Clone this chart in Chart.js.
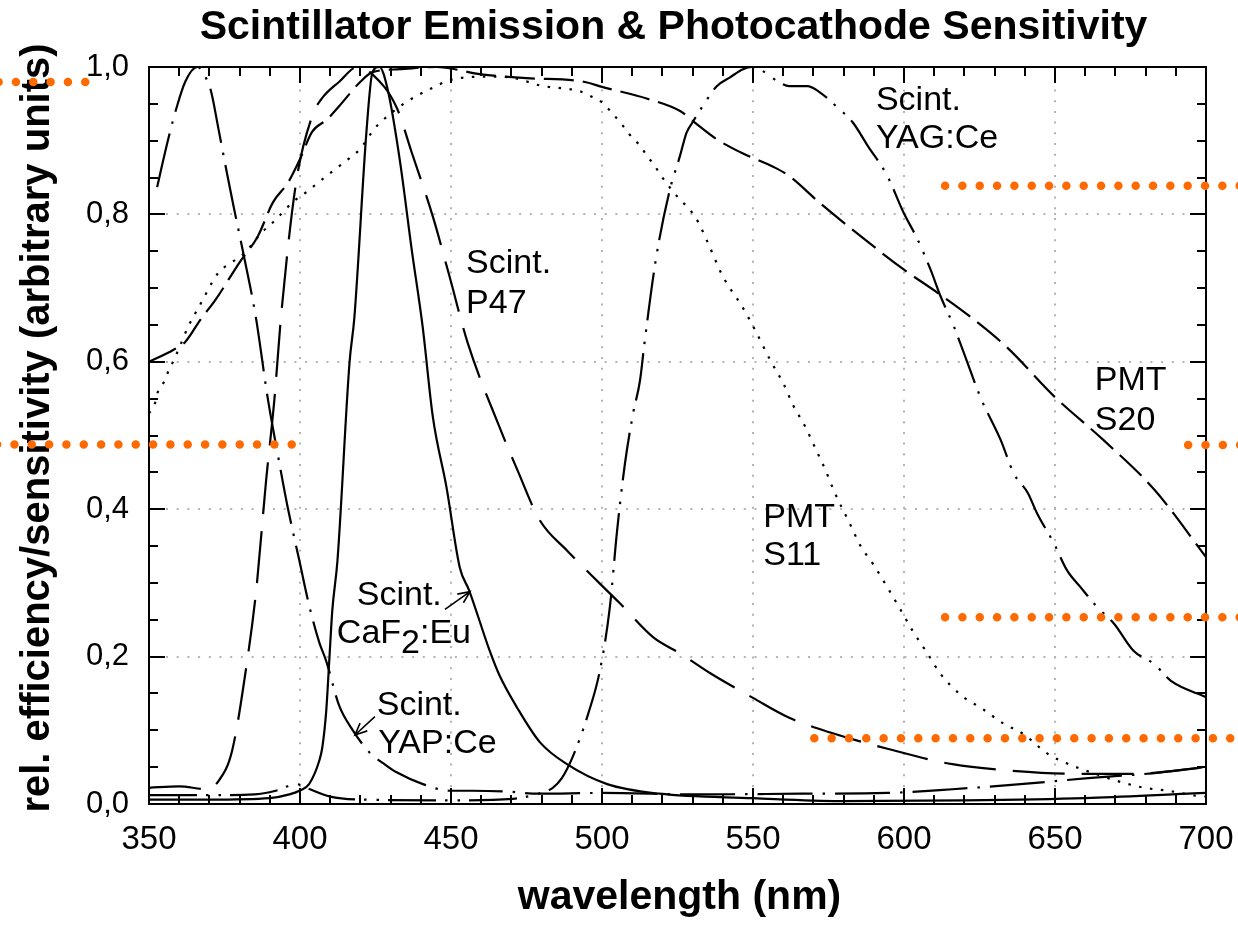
<!DOCTYPE html>
<html><head><meta charset="utf-8">
<script src="https://cdn.jsdelivr.net/npm/chart.js@4.4.1/dist/chart.umd.min.js"></script>
<style>html,body{margin:0;padding:0;background:#fff;}canvas{display:block;}</style>
</head><body>
<canvas id="c" width="1238" height="935"></canvas>
<script>
// ---------- data (wavelength in nm, relative value) ----------
const s20X = [350, 358, 362, 367, 372, 380, 386, 391, 396, 400, 404, 409, 413, 420, 424, 433, 445, 460, 475, 494, 500, 515, 526, 530, 538, 546, 557, 562, 572, 587, 600, 611, 622, 634, 650, 666, 683, 700];
const s20Y = [0.60, 0.616, 0.627, 0.657, 0.684, 0.735, 0.77, 0.816, 0.843, 0.875, 0.912, 0.929, 0.947, 0.98, 0.993, 0.997, 1.0, 0.99, 0.985, 0.98, 0.973, 0.957, 0.94, 0.927, 0.902, 0.884, 0.864, 0.852, 0.816, 0.766, 0.725, 0.694, 0.661, 0.62, 0.552, 0.494, 0.426, 0.335];

const s11X = [350, 352, 353, 355, 356.6, 358.3, 360, 363, 366.6, 373, 377, 381, 387.5, 391, 398, 402, 408.7, 416, 419.7, 425, 428.6, 435, 443, 449.5, 455, 465, 472, 479.4, 492.7, 496, 500, 503, 506.6, 509, 512.6, 515, 517.6, 520, 525.8, 529, 531.8, 535, 540, 546.4, 550.7, 556, 560, 563.3, 567.3, 570.6, 574, 577, 582, 585.5, 590, 594.5, 598.8, 603, 607.8, 612, 618.8, 626, 633, 639.5, 647.6, 654.6, 664, 672.5, 679.5, 687.4, 697, 700];
const s11Y = [0.53, 0.544, 0.56, 0.573, 0.589, 0.603, 0.619, 0.648, 0.675, 0.721, 0.734, 0.745, 0.776, 0.789, 0.818, 0.83, 0.852, 0.875, 0.888, 0.918, 0.932, 0.952, 0.97, 0.982, 0.986, 0.987, 0.984, 0.975, 0.967, 0.961, 0.952, 0.939, 0.922, 0.909, 0.893, 0.879, 0.865, 0.85, 0.82, 0.807, 0.79, 0.762, 0.716, 0.675, 0.643, 0.6, 0.571, 0.541, 0.512, 0.483, 0.453, 0.423, 0.381, 0.351, 0.324, 0.294, 0.264, 0.234, 0.204, 0.177, 0.148, 0.129, 0.109, 0.095, 0.068, 0.054, 0.04, 0.029, 0.022, 0.018, 0.011, 0.01];

const p47X = [350, 360, 369, 373, 377.5, 382, 385.5, 388.8, 391.5, 393.8, 398.7, 404, 407, 413, 419, 424, 432, 437, 444, 449.5, 455.5, 466, 472, 479.4, 488.4, 499.3, 506, 517, 526, 536, 550, 562, 575.6, 594.5, 616, 636, 656, 676, 700];
const p47Y = [0.022, 0.024, 0.02, 0.031, 0.072, 0.18, 0.29, 0.44, 0.548, 0.665, 0.843, 0.933, 0.956, 0.98, 1.0, 0.99, 0.945, 0.884, 0.797, 0.716, 0.626, 0.512, 0.453, 0.385, 0.344, 0.299, 0.272, 0.226, 0.204, 0.177, 0.144, 0.117, 0.097, 0.075, 0.054, 0.045, 0.041, 0.041, 0.05];

const cafX = [350, 370, 390, 396.5, 399.8, 403, 406.4, 407.4, 408.7, 409.7, 410.7, 412.4, 416.4, 418, 422, 424, 426.3, 429, 433, 437, 440.6, 444, 448.5, 452.9, 456, 462.8, 466, 472, 479.4, 488.4, 501.7, 519, 550, 579, 620, 660, 694, 700];
const cafY = [0.006, 0.006, 0.008, 0.013, 0.018, 0.027, 0.059, 0.077, 0.127, 0.195, 0.263, 0.33, 0.599, 0.66, 0.912, 0.993, 1.0, 0.97, 0.875, 0.752, 0.648, 0.525, 0.43, 0.321, 0.29, 0.208, 0.175, 0.13, 0.084, 0.054, 0.027, 0.014, 0.008, 0.004, 0.005, 0.008, 0.014, 0.015];

const yapX = [352.7, 354.4, 356.6, 359, 362, 366, 369, 370.6, 373, 376, 378, 381, 385.4, 389.3, 393.1, 395.9, 399.8, 403, 406.4, 408.6, 413, 417.5, 423, 428, 432, 440.7, 449.5, 457, 468, 479, 500, 532, 566, 594.5, 616, 638.6, 661, 683, 700];
const yapY = [0.837, 0.868, 0.906, 0.943, 0.98, 1.0, 0.984, 0.966, 0.916, 0.852, 0.811, 0.752, 0.66, 0.551, 0.464, 0.403, 0.33, 0.27, 0.219, 0.195, 0.133, 0.1, 0.07, 0.054, 0.043, 0.027, 0.018, 0.018, 0.017, 0.014, 0.015, 0.013, 0.014, 0.015, 0.02, 0.027, 0.035, 0.042, 0.05];

const yagX = [350, 370, 385, 392, 398.8, 402, 410, 420, 450, 470.5, 478, 483.7, 486.7, 490.4, 495.4, 499.3, 502.6, 505, 507.6, 510.3, 512.6, 514.2, 518, 522.5, 525.8, 528, 530, 534.8, 538, 542.4, 546.7, 549.7, 553, 558, 562, 568, 572, 578, 583, 588, 594.5, 599.8, 604.5, 608.8, 612, 616.5, 621, 625.3, 632, 636.3, 641, 644, 649.6, 654, 658.5, 664, 669.5, 676, 682.8, 688.4, 700];
const yagY = [0.012, 0.012, 0.013, 0.018, 0.027, 0.022, 0.01, 0.006, 0.005, 0.007, 0.013, 0.022, 0.035, 0.065, 0.122, 0.181, 0.267, 0.371, 0.462, 0.53, 0.575, 0.63, 0.743, 0.834, 0.879, 0.911, 0.925, 0.956, 0.974, 0.986, 0.997, 1.0, 0.995, 0.981, 0.974, 0.974, 0.966, 0.945, 0.925, 0.893, 0.852, 0.803, 0.766, 0.725, 0.69, 0.648, 0.599, 0.552, 0.494, 0.449, 0.422, 0.395, 0.354, 0.317, 0.294, 0.267, 0.245, 0.208, 0.19, 0.167, 0.145];

// orange dotted marker rows (value level, start and end wavelength)
const markY  = [0.9796, 0.4878, 0.839, 0.4871, 0.2533, 0.0891];
const markX0 = [300.2, 299.7, 613.6, 694.1, 613.6, 570.3];
const markX1 = [329.2, 397.3, 711.5, 711.5, 711.5, 708.2];

// ticks
const xTickValues = [350, 400, 450, 500, 550, 600, 650, 700];
const xTickLabels = ['350', '400', '450', '500', '550', '600', '650', '700'];
const yTickValues = [0, 0.2, 0.4, 0.6, 0.8, 1.0];
const yTickLabels = ['0,0', '0,2', '0,4', '0,6', '0,8', '1,0'];

const titleText = 'Scintillator Emission & Photocathode Sensitivity';
const xTitle = 'wavelength (nm)';
const yTitle = 'rel. efficiency/sensitivity (arbitrary units)';

// ---------- annotations (data coordinates) ----------
const notes = [
  {t: 'Scint.', x: 455.0, y: 0.7201}, {t: 'P47', x: 455.0, y: 0.6658},
  {t: 'Scint.', x: 590.7, y: 0.9417}, {t: 'YAG:Ce', x: 590.7, y: 0.8897},
  {t: 'PMT', x: 663.2, y: 0.5617}, {t: 'S20', x: 663.2, y: 0.5075},
  {t: 'PMT', x: 553.4, y: 0.3763}, {t: 'S11', x: 553.4, y: 0.3243},
  {t: 'Scint.', x: 418.8, y: 0.270}, {t: ['CaF', '2', ':Eu'], x: 412.2, y: 0.218},
  {t: 'Scint.', x: 425.4, y: 0.1208}, {t: 'YAP:Ce', x: 425.9, y: 0.0696}
];
const arrows = [
  {x1: 448.0, y1: 0.2642, x2: 456.3, y2: 0.2882},
  {x1: 424.8, y1: 0.1185, x2: 418.2, y2: 0.0936}
];

// ---------- build datasets ----------
const zip = (xs, ys) => xs.map((v, i) => ({x: v, y: ys[i]}));
function curve(label, xs, ys, dash) {
  return {
    label, data: zip(xs, ys), showLine: true, borderColor: '#000', backgroundColor: '#000',
    borderWidth: 2.2, pointRadius: 0, borderDash: dash, cubicInterpolationMode: 'monotone', order: 1
  };
}
const datasets = [
  curve('PMT S20', s20X, s20Y, [30, 9]),
  curve('PMT S11', s11X, s11Y, [2.5, 8.5]),
  curve('Scint. P47', p47X, p47Y, [52, 17]),
  curve('Scint. CaF2:Eu', cafX, cafY, []),
  curve('Scint. YAP:Ce', yapX, yapY, [55, 10, 2.5, 10]),
  curve('Scint. YAG:Ce', yagX, yagY, [48, 9, 2.5, 10, 2.5, 9])
];
markY.forEach((v, i) => {
  datasets.push({
    label: 'mark' + i, data: [{x: markX0[i], y: v}, {x: markX1[i], y: v}],
    showLine: true, borderColor: '#ff6a00', backgroundColor: '#ff6a00', borderWidth: 8.5,
    borderDash: [0, 17.33], borderCapStyle: 'round', pointRadius: 0, clip: false, order: 0
  });
});

const FONT = '"Liberation Sans", Arial, Helvetica, sans-serif';
Chart.defaults.font.family = FONT;
Chart.defaults.color = '#000';

function drawArrow(ctx, x1, y1, x2, y2) {
  const ang = Math.atan2(y2 - y1, x2 - x1), len = 13, spr = 0.42;
  ctx.beginPath();
  ctx.moveTo(x1, y1); ctx.lineTo(x2, y2);
  ctx.moveTo(x2 - len * Math.cos(ang - spr), y2 - len * Math.sin(ang - spr));
  ctx.lineTo(x2, y2);
  ctx.lineTo(x2 - len * Math.cos(ang + spr), y2 - len * Math.sin(ang + spr));
  ctx.stroke();
}

const decor = {
  id: 'decor',
  beforeDatasetsDraw(chart) {
    const {ctx, chartArea: a, scales: {x, y}} = chart;
    ctx.save();
    // dotted grid
    ctx.strokeStyle = '#b3b3b3'; ctx.lineWidth = 2; ctx.setLineDash([2, 8.7]);
    xTickValues.slice(1, -1).forEach(v => {
      const p = Math.round(x.getPixelForValue(v));
      ctx.beginPath(); ctx.moveTo(p, a.bottom - 17); ctx.lineTo(p, a.top + 17); ctx.stroke();
    });
    yTickValues.slice(1, -1).forEach(v => {
      const p = Math.round(y.getPixelForValue(v));
      ctx.beginPath(); ctx.moveTo(a.left + 17, p); ctx.lineTo(a.right - 17, p); ctx.stroke();
    });
    ctx.setLineDash([]);
    // inward ticks
    ctx.strokeStyle = '#000'; ctx.lineWidth = 2;
    ctx.beginPath();
    for (let v = x.min; v <= x.max + 0.001; v += 10) {
      const p = Math.round(x.getPixelForValue(v));
      const len = (Math.round(v) % 50 === 0) ? 16 : 9;
      ctx.moveTo(p, a.bottom); ctx.lineTo(p, a.bottom - len);
      ctx.moveTo(p, a.top); ctx.lineTo(p, a.top + len);
    }
    for (let k = 0; k <= 20; k++) {
      const v = k * 0.05;
      const p = Math.round(y.getPixelForValue(v));
      const len = (k % 4 === 0) ? 16 : 9;
      ctx.moveTo(a.left, p); ctx.lineTo(a.left + len, p);
      ctx.moveTo(a.right, p); ctx.lineTo(a.right - len, p);
    }
    ctx.stroke();
    // frame
    ctx.strokeRect(a.left, a.top, a.right - a.left, a.bottom - a.top);
    // titles
    ctx.fillStyle = '#000';
    ctx.textBaseline = 'alphabetic'; ctx.textAlign = 'center';
    ctx.font = 'bold 41px ' + FONT;
    ctx.fillText(titleText, (a.left + a.right) / 2 - 4, 39);
    ctx.fillText(xTitle, (a.left + a.right) / 2 + 2, 909);
    ctx.font = 'bold 40px ' + FONT;
    ctx.translate(49, 428); ctx.rotate(-Math.PI / 2);
    ctx.fillText(yTitle, 0, 0);
    ctx.restore();
  },
  afterDatasetsDraw(chart) {
    const {ctx, scales: {x, y}} = chart;
    ctx.save();
    ctx.fillStyle = '#000'; ctx.strokeStyle = '#000';
    ctx.font = '34px ' + FONT; ctx.textAlign = 'left'; ctx.textBaseline = 'alphabetic';
    notes.forEach(n => {
      const px = x.getPixelForValue(n.x), py = y.getPixelForValue(n.y);
      if (Array.isArray(n.t)) {
        let cx = px;
        n.t.forEach((seg, i) => {
          ctx.fillText(seg, cx, py + (i === 1 ? 10 : 0));
          cx += ctx.measureText(seg).width;
        });
      } else {
        ctx.fillText(n.t, px, py);
      }
    });
    ctx.lineWidth = 1.6;
    arrows.forEach(r => drawArrow(ctx, x.getPixelForValue(r.x1), y.getPixelForValue(r.y1),
      x.getPixelForValue(r.x2), y.getPixelForValue(r.y2)));
    ctx.restore();
  }
};

new Chart(document.getElementById('c'), {
  type: 'scatter',
  data: {datasets},
  options: {
    responsive: false, animation: false, devicePixelRatio: 1,
    layout: {padding: {top: 67, right: 32, bottom: 0, left: 0}},
    plugins: {legend: {display: false}, tooltip: {enabled: false}, title: {display: false}},
    scales: {
      x: {
        type: 'linear', min: 350, max: 700,
        afterFit(s) { s.height = 131; s.paddingLeft = 0; s.paddingRight = 0; },
        afterBuildTicks(s) { s.ticks = xTickValues.map(v => ({value: v})); },
        ticks: {padding: 16, font: {size: 33}, color: '#000', maxRotation: 0, autoSkip: false,
          callback: (v, i) => xTickLabels[i]},
        grid: {display: false, drawTicks: false, tickLength: 0},
        border: {display: false}
      },
      y: {
        type: 'linear', min: 0, max: 1,
        afterFit(s) { s.width = 149; s.paddingTop = 0; s.paddingBottom = 0; },
        afterBuildTicks(s) { s.ticks = yTickValues.map(v => ({value: v})); },
        ticks: {padding: 20, font: {size: 31}, color: '#000', autoSkip: false,
          callback: (v, i) => yTickLabels[i]},
        grid: {display: false, drawTicks: false, tickLength: 0},
        border: {display: false}
      }
    }
  },
  plugins: [decor]
});
</script>
</body></html>
